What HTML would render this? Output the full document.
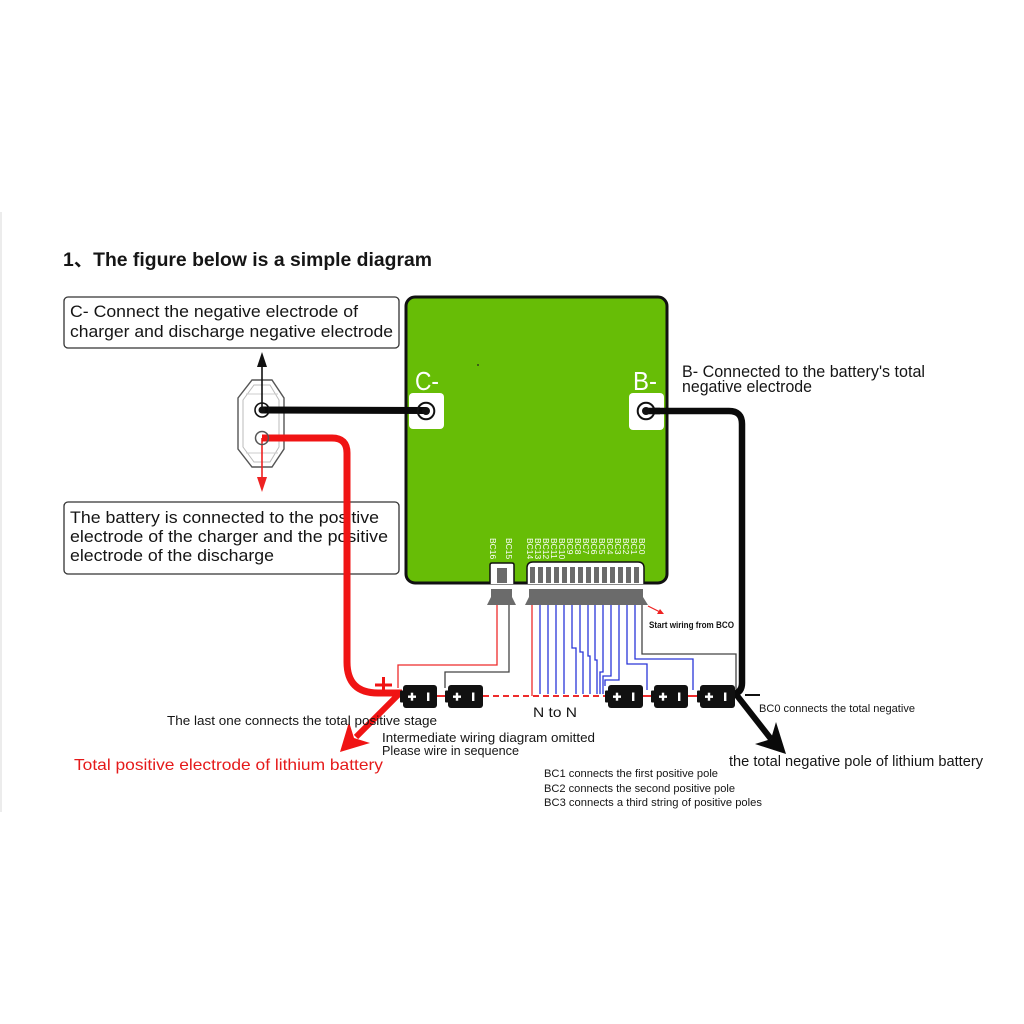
<!DOCTYPE html>
<html><head><meta charset="utf-8"><style>
html,body{margin:0;padding:0;background:#fff;}
svg{display:block;}
text{font-family:"Liberation Sans","Noto Sans CJK SC",sans-serif;fill:#151515;}
</style></head><body>
<svg width="1024" height="1024" viewBox="0 0 1024 1024" xmlns="http://www.w3.org/2000/svg">
<rect x="0" y="0" width="1024" height="1024" fill="#fff"/>
<rect x="0" y="212" width="2" height="600" fill="#ececec"/>

<!-- Title -->
<text x="63" y="266" font-size="19" font-weight="bold" textLength="369" lengthAdjust="spacingAndGlyphs">1、The figure below is a simple diagram</text>

<!-- Box 1 -->
<rect x="64" y="297" width="335" height="51" rx="4" fill="#fff" stroke="#333" stroke-width="1.3"/>
<text x="70" y="317" font-size="16.5" textLength="288" lengthAdjust="spacingAndGlyphs">C- Connect the negative electrode of</text>
<text x="70" y="337" font-size="16.5" textLength="323" lengthAdjust="spacingAndGlyphs">charger and discharge negative electrode</text>

<!-- Box 2 -->
<rect x="64" y="502" width="335" height="72" rx="4" fill="#fff" stroke="#333" stroke-width="1.3"/>
<text x="70" y="523" font-size="16.5" textLength="309" lengthAdjust="spacingAndGlyphs">The battery is connected to the positive</text>
<text x="70" y="542" font-size="16.5" textLength="318" lengthAdjust="spacingAndGlyphs">electrode of the charger and the positive</text>
<text x="70" y="561" font-size="16.5" textLength="204" lengthAdjust="spacingAndGlyphs">electrode of the discharge</text>

<!-- Board -->
<rect x="406" y="297" width="261" height="286" rx="9" fill="#67bd06" stroke="#111" stroke-width="3"/>
<circle cx="478" cy="365" r="0.9" fill="#222"/>
<text x="415" y="390" font-size="26" fill="#fff" style="fill:#fff" textLength="24" lengthAdjust="spacingAndGlyphs">C-</text>
<text x="633" y="390" font-size="26" style="fill:#fff" textLength="24" lengthAdjust="spacingAndGlyphs">B-</text>
<rect x="409" y="393" width="35" height="36" rx="4" fill="#fff"/>
<rect x="629" y="393" width="35" height="37" rx="4" fill="#fff"/>

<!-- Board labels (rotated) -->
<g font-size="8.5" style="fill:#fff">
<text transform="translate(490,538) rotate(90)" style="fill:#fff">BC16</text>
<text transform="translate(506,538) rotate(90)" style="fill:#fff">BC15</text>
<text transform="translate(527,538) rotate(90)" style="fill:#fff">BC14</text>
<text transform="translate(535,538) rotate(90)" style="fill:#fff">BC13</text>
<text transform="translate(543,538) rotate(90)" style="fill:#fff">BC12</text>
<text transform="translate(551,538) rotate(90)" style="fill:#fff">BC11</text>
<text transform="translate(559,538) rotate(90)" style="fill:#fff">BC10</text>
<text transform="translate(567,538) rotate(90)" style="fill:#fff">BC9</text>
<text transform="translate(575,538) rotate(90)" style="fill:#fff">BC8</text>
<text transform="translate(583,538) rotate(90)" style="fill:#fff">BC7</text>
<text transform="translate(591,538) rotate(90)" style="fill:#fff">BC6</text>
<text transform="translate(599,538) rotate(90)" style="fill:#fff">BC5</text>
<text transform="translate(607,538) rotate(90)" style="fill:#fff">BC4</text>
<text transform="translate(615,538) rotate(90)" style="fill:#fff">BC3</text>
<text transform="translate(623,538) rotate(90)" style="fill:#fff">BC2</text>
<text transform="translate(631,538) rotate(90)" style="fill:#fff">BC1</text>
<text transform="translate(639,538) rotate(90)" style="fill:#fff">BC0</text>
</g>

<!-- Sockets -->
<path d="M490,584 V565 Q490,563 492,563 H512 Q514,563 514,565 V584" fill="#fff" stroke="#111" stroke-width="1.5"/>
<rect x="497" y="568" width="10" height="15" fill="#6b6b6b"/>
<path d="M527,584 V568 Q527,562 533,562 H638 Q644,562 644,568 V584" fill="#fff" stroke="#111" stroke-width="1.5"/>
<g fill="#6b6b6b">
<rect x="530" y="567" width="5" height="16"/><rect x="538" y="567" width="5" height="16"/>
<rect x="546" y="567" width="5" height="16"/><rect x="554" y="567" width="5" height="16"/>
<rect x="562" y="567" width="5" height="16"/><rect x="570" y="567" width="5" height="16"/>
<rect x="578" y="567" width="5" height="16"/><rect x="586" y="567" width="5" height="16"/>
<rect x="594" y="567" width="5" height="16"/><rect x="602" y="567" width="5" height="16"/>
<rect x="610" y="567" width="5" height="16"/><rect x="618" y="567" width="5" height="16"/>
<rect x="626" y="567" width="5" height="16"/><rect x="634" y="567" width="5" height="16"/>
</g>

<!-- Plugs -->
<polygon points="491,589 512,589 512,597 516,605 487,605 491,597" fill="#6b6b6b"/>
<polygon points="529,589 643,589 643,597 648,605 525,605 529,597" fill="#6b6b6b"/>

<!-- Thin wires -->
<g fill="none" stroke-width="1.3">
<path d="M497,605 V665 H398 V688" stroke="#ee2b2b"/>
<path d="M509,605 V672 H445 V688" stroke="#444"/>
<path d="M532,605 V696" stroke="#ee2b2b"/>
<g stroke="#2a36d8">
<path d="M540,605 V694"/><path d="M548,605 V694"/><path d="M556,605 V694"/><path d="M564,605 V694"/>
<path d="M572,605 V648 H576 V694"/>
<path d="M580,605 V652 H583 V694"/>
<path d="M588,605 V656 H590 V694"/>
<path d="M595,605 V660 H597 V694"/>
<path d="M603,605 V672 H600 V694"/>
<path d="M611,605 V676 H603 V694"/>
<path d="M619,605 V680 H605 V686"/>
<path d="M627,605 V664 H647 V690"/>
<path d="M635,605 V659 H693 V690"/>
</g>
<path d="M642,605 V654 H736 V690" stroke="#444"/>
</g>

<!-- Start wiring arrow -->
<line x1="648" y1="606" x2="660" y2="612" stroke="#e22" stroke-width="1.2"/>
<polygon points="664,614 657,614 660,609" fill="#e22"/>
<text x="649" y="628" font-size="9" font-weight="bold" textLength="85" lengthAdjust="spacingAndGlyphs">Start wiring from BCO</text>

<!-- Red dashed and links -->
<line x1="483" y1="696" x2="606" y2="696" stroke="#ee2b2b" stroke-width="2" stroke-dasharray="6,4"/>
<line x1="437" y1="696" x2="446" y2="696" stroke="#ee2b2b" stroke-width="2"/>
<line x1="643" y1="696" x2="652" y2="696" stroke="#ee2b2b" stroke-width="2"/>
<line x1="688" y1="696" x2="698" y2="696" stroke="#ee2b2b" stroke-width="2"/>

<!-- Plug connector on left -->
<path d="M252,380 H272 L284,398 V449 L272,467 H252 L238,449 V398 Z" fill="#fff" stroke="#555" stroke-width="1.4"/>
<path d="M254,385 H270 L279,400 V447 L270,462 H254 L243,447 V400 Z" fill="none" stroke="#bbb" stroke-width="1"/>
<line x1="246" y1="394" x2="278" y2="394" stroke="#ccc" stroke-width="1"/>
<line x1="246" y1="453" x2="278" y2="453" stroke="#ccc" stroke-width="1"/>

<!-- Black arrow up / red arrow down -->
<line x1="262" y1="410" x2="262" y2="366" stroke="#111" stroke-width="1.6"/>
<polygon points="262,352 257,367 267,367" fill="#111"/>
<line x1="262" y1="438" x2="262" y2="478" stroke="#ee2222" stroke-width="1.6"/>
<polygon points="262,492 257,477 267,477" fill="#ee2222"/>

<!-- Red thick wire -->
<path d="M262,438 H332 Q347,438 347,453 V662 Q347,693 378,693 H402" fill="none" stroke="#f01414" stroke-width="7" stroke-linejoin="round"/>
<line x1="400" y1="693" x2="356" y2="737" stroke="#f01414" stroke-width="6"/>
<polygon points="340,752 370,743 354,738 349,722" fill="#f01414"/>
<line x1="375" y1="685" x2="392" y2="685" stroke="#f01414" stroke-width="3"/>
<line x1="383.5" y1="677" x2="383.5" y2="693" stroke="#f01414" stroke-width="3"/>

<!-- Black C- wire -->
<line x1="262" y1="410" x2="426" y2="410.5" stroke="#0a0a0a" stroke-width="7"/>
<circle cx="262" cy="410" r="7" fill="none" stroke="#111" stroke-width="1.6"/>
<circle cx="262" cy="410" r="3.5" fill="#111"/>
<circle cx="262" cy="438" r="6.5" fill="none" stroke="#555" stroke-width="1.5"/>
<circle cx="426" cy="411" r="8.3" fill="none" stroke="#111" stroke-width="2"/>
<circle cx="426" cy="411" r="4" fill="#111"/>

<!-- Black B- wire -->
<path d="M646,411 H729 Q742,411 742,424 V683 Q742,692 734,694" fill="none" stroke="#0a0a0a" stroke-width="6.5" stroke-linejoin="round"/>
<circle cx="646" cy="411" r="8.3" fill="#fff" stroke="#111" stroke-width="2"/>
<line x1="646" y1="411" x2="660" y2="411" stroke="#0a0a0a" stroke-width="6.5"/>
<circle cx="646" cy="411" r="4" fill="#111"/>
<line x1="735" y1="693" x2="771" y2="739" stroke="#0a0a0a" stroke-width="6"/>
<polygon points="786,754 776,722 771,739 755,744" fill="#0a0a0a"/>
<line x1="745" y1="695" x2="760" y2="695" stroke="#111" stroke-width="2"/>

<!-- Batteries -->
<g>
<g transform="translate(400,685)">
<rect x="0" y="5.5" width="6" height="12" rx="1" fill="#111"/><rect x="3" y="0" width="34" height="23" rx="3" fill="#111"/>
<rect x="8" y="10.5" width="8" height="2.4" fill="#fff"/><rect x="10.8" y="7.7" width="2.4" height="8" fill="#fff"/><rect x="27" y="7.5" width="2.4" height="8.5" fill="#fff"/></g>
<g transform="translate(445,685)">
<rect x="0" y="5.5" width="6" height="12" rx="1" fill="#111"/><rect x="3" y="0" width="35" height="23" rx="3" fill="#111"/>
<rect x="8" y="10.5" width="8" height="2.4" fill="#fff"/><rect x="10.8" y="7.7" width="2.4" height="8" fill="#fff"/><rect x="27" y="7.5" width="2.4" height="8.5" fill="#fff"/></g>
<g transform="translate(605,685)">
<rect x="0" y="5.5" width="6" height="12" rx="1" fill="#111"/><rect x="3" y="0" width="35" height="23" rx="3" fill="#111"/>
<rect x="8" y="10.5" width="8" height="2.4" fill="#fff"/><rect x="10.8" y="7.7" width="2.4" height="8" fill="#fff"/><rect x="27" y="7.5" width="2.4" height="8.5" fill="#fff"/></g>
<g transform="translate(651,685)">
<rect x="0" y="5.5" width="6" height="12" rx="1" fill="#111"/><rect x="3" y="0" width="34" height="23" rx="3" fill="#111"/>
<rect x="8" y="10.5" width="8" height="2.4" fill="#fff"/><rect x="10.8" y="7.7" width="2.4" height="8" fill="#fff"/><rect x="27" y="7.5" width="2.4" height="8.5" fill="#fff"/></g>
<g transform="translate(697,685)">
<rect x="0" y="5.5" width="6" height="12" rx="1" fill="#111"/><rect x="3" y="0" width="35" height="23" rx="3" fill="#111"/>
<rect x="8" y="10.5" width="8" height="2.4" fill="#fff"/><rect x="10.8" y="7.7" width="2.4" height="8" fill="#fff"/><rect x="27" y="7.5" width="2.4" height="8.5" fill="#fff"/></g>
</g>

<!-- Texts -->
<text x="682" y="377" font-size="16.5" textLength="243" lengthAdjust="spacingAndGlyphs">B- Connected to the battery's total</text>
<text x="682" y="392" font-size="16.5" textLength="130" lengthAdjust="spacingAndGlyphs">negative electrode</text>

<text x="167" y="725" font-size="13" textLength="270" lengthAdjust="spacingAndGlyphs">The last one connects the total positive stage</text>
<text x="382" y="742" font-size="13" textLength="213" lengthAdjust="spacingAndGlyphs">Intermediate wiring diagram omitted</text>
<text x="382" y="755" font-size="13" textLength="137" lengthAdjust="spacingAndGlyphs">Please wire in sequence</text>
<text x="533" y="717" font-size="14" textLength="44" lengthAdjust="spacingAndGlyphs">N to N</text>
<text x="74" y="770" font-size="16" style="fill:#e51a1a" textLength="309" lengthAdjust="spacingAndGlyphs">Total positive electrode of lithium battery</text>
<text x="759" y="712" font-size="11" textLength="156" lengthAdjust="spacingAndGlyphs">BC0 connects the total negative</text>
<text x="729" y="766" font-size="15" textLength="254" lengthAdjust="spacingAndGlyphs">the total negative pole of lithium battery</text>
<text x="544" y="777" font-size="11" textLength="174" lengthAdjust="spacingAndGlyphs">BC1 connects the first positive pole</text>
<text x="544" y="792" font-size="11" textLength="191" lengthAdjust="spacingAndGlyphs">BC2 connects the second positive pole</text>
<text x="544" y="806" font-size="11" textLength="218" lengthAdjust="spacingAndGlyphs">BC3 connects a third string of positive poles</text>
</svg>
</body></html>
